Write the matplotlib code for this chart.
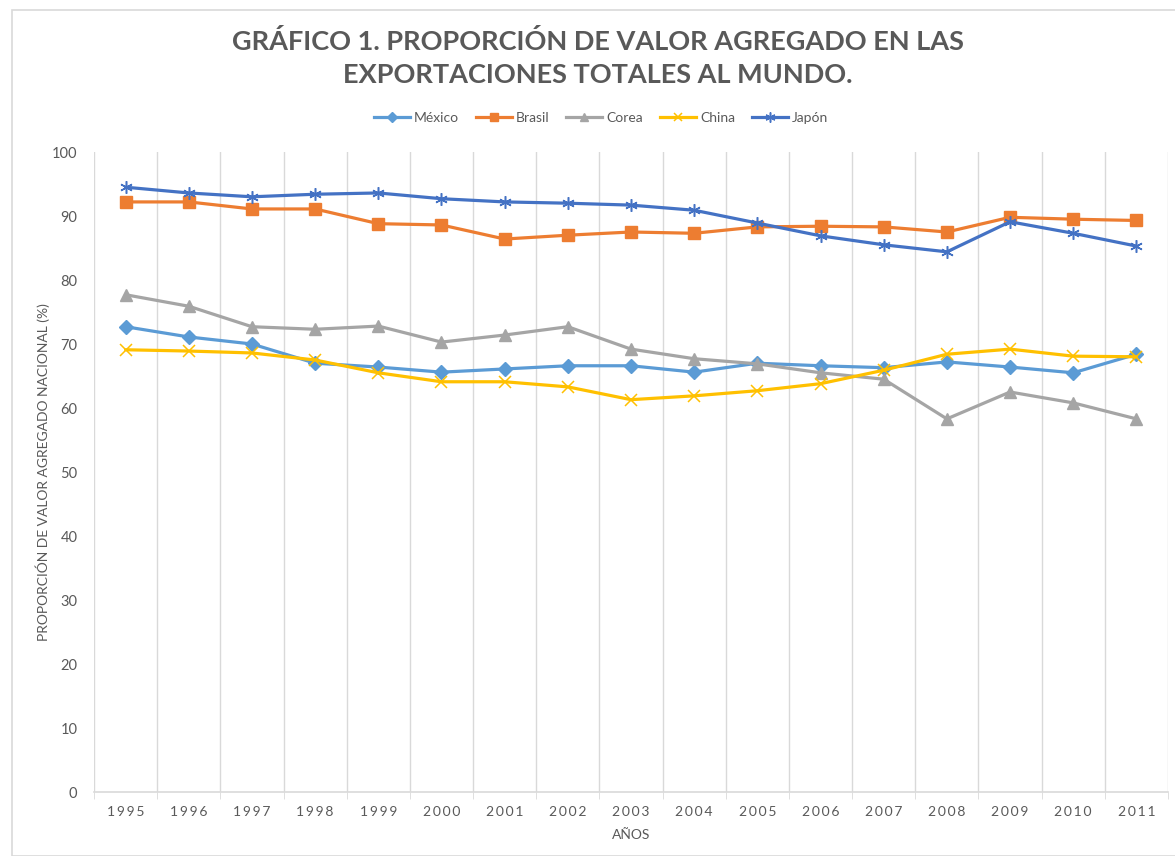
import matplotlib
matplotlib.use("Agg")
import matplotlib.pyplot as plt
from matplotlib.patches import Rectangle
from matplotlib.lines import Line2D

years = ["1995", "1996", "1997", "1998", "1999", "2000", "2001", "2002", "2003",
         "2004", "2005", "2006", "2007", "2008", "2009", "2010", "2011"]
mexico = [72.7, 71.1, 70.0, 67.0, 66.4, 65.6, 66.1, 66.6, 66.6, 65.6, 67.0, 66.6, 66.3, 67.2, 66.4, 65.5, 68.4]
brasil = [92.2, 92.2, 91.1, 91.1, 88.8, 88.6, 86.4, 87.0, 87.5, 87.3, 88.3, 88.4, 88.3, 87.5, 89.8, 89.5, 89.3]
corea = [77.7, 75.9, 72.7, 72.3, 72.8, 70.3, 71.4, 72.7, 69.2, 67.7, 66.9, 65.5, 64.5, 58.3, 62.5, 60.8, 58.3]
china = [69.1, 68.9, 68.6, 67.5, 65.5, 64.1, 64.1, 63.3, 61.3, 61.9, 62.7, 63.8, 65.9, 68.4, 69.2, 68.1, 68.0]
japon = [94.5, 93.6, 93.0, 93.4, 93.6, 92.7, 92.2, 92.0, 91.7, 90.9, 88.9, 86.9, 85.5, 84.4, 89.1, 87.3, 85.3]

series = [
    ("México", mexico, "#5B9BD5", "D", 7),
    ("Brasil", brasil, "#ED7D31", "s", 8),
    ("Corea", corea, "#A5A5A5", "^", 8),
    ("China", china, "#FFC000", "x", 8),
    ("Japón", japon, "#4472C4", (6, 2, 0), 9),
]

plt.rcParams['font.family'] = ['Lato', 'DejaVu Sans']
text_grey = "#595959"

fig = plt.figure(figsize=(11.75, 8.56), dpi=100)
fig.patches.append(Rectangle((12 / 1175, 0), 1.2, 1 - 10 / 856, transform=fig.transFigure,
                             fill=False, edgecolor="#D9D9D9", linewidth=1.2))

ax = fig.add_axes([94 / 1175, 1 - 792 / 856, (1168 - 94) / 1175, (792 - 152) / 856])
x = list(range(len(years)))
for name, vals, color, marker, ms in series:
    mew = 1.1 if marker in ("x", (6, 2, 0)) else 1
    ax.plot(x, vals, color=color, linewidth=2.3, marker=marker, markersize=ms,
            markeredgewidth=mew, markerfacecolor=color, markeredgecolor=color,
            label=name, solid_capstyle="round")

ax.set_xlim(-0.5, len(years) - 0.5)
ax.set_ylim(0, 100)
ax.set_yticks(range(0, 101, 10))
ax.set_xticks(x)
ax.set_xticklabels(["\u2009".join(y) for y in years])
ax.set_xticks([i - 0.5 for i in range(len(years) + 1)], minor=True)
ax.grid(True, which="minor", axis="x", color="#D9D9D9", linewidth=1)
ax.set_axisbelow(True)
for s in ["top", "right", "left"]:
    ax.spines[s].set_visible(False)
ax.spines["bottom"].set_color("#D9D9D9")
ax.spines["bottom"].set_linewidth(1.2)
ax.tick_params(axis="x", which="major", length=0, pad=10, labelsize=10, labelcolor=text_grey)
ax.tick_params(axis="x", which="minor", length=5, color="#D9D9D9")
ax.tick_params(axis="y", length=0, pad=12, labelsize=10.5, labelcolor=text_grey)

ax.set_xlabel("AÑOS", fontsize=10, color=text_grey, labelpad=8)
ax.set_ylabel("PROPORCIÓN DE VALOR AGREGADO NACIONAL (%)", fontsize=10, color=text_grey)
ax.yaxis.set_label_coords((50 - 94) / 1074, 0.5)

fig.text(598 / 1175, 1 - 58 / 856,
         "GRÁFICO 1. PROPORCIÓN DE VALOR AGREGADO EN LAS\nEXPORTACIONES TOTALES AL MUNDO.",
         ha="center", va="center", fontsize=19.5, fontweight="bold", color=text_grey,
         linespacing=1.45)

handles = [Line2D([0], [0], color=c, linewidth=2.3, marker=m, markersize=ms * 0.8,
                  markerfacecolor=c, markeredgecolor=c,
                  markeredgewidth=1.1 if m in ("x", (6, 2, 0)) else 1) for _, _, c, m, ms in series]
fig.legend(handles, [s[0] for s in series], loc="center", bbox_to_anchor=(601 / 1175, 1 - 118 / 856),
           ncol=5, frameon=False, fontsize=10, labelcolor=text_grey, handlelength=2.6,
           columnspacing=1.2, handletextpad=0.3)

fig.savefig("out.png", dpi=100)
